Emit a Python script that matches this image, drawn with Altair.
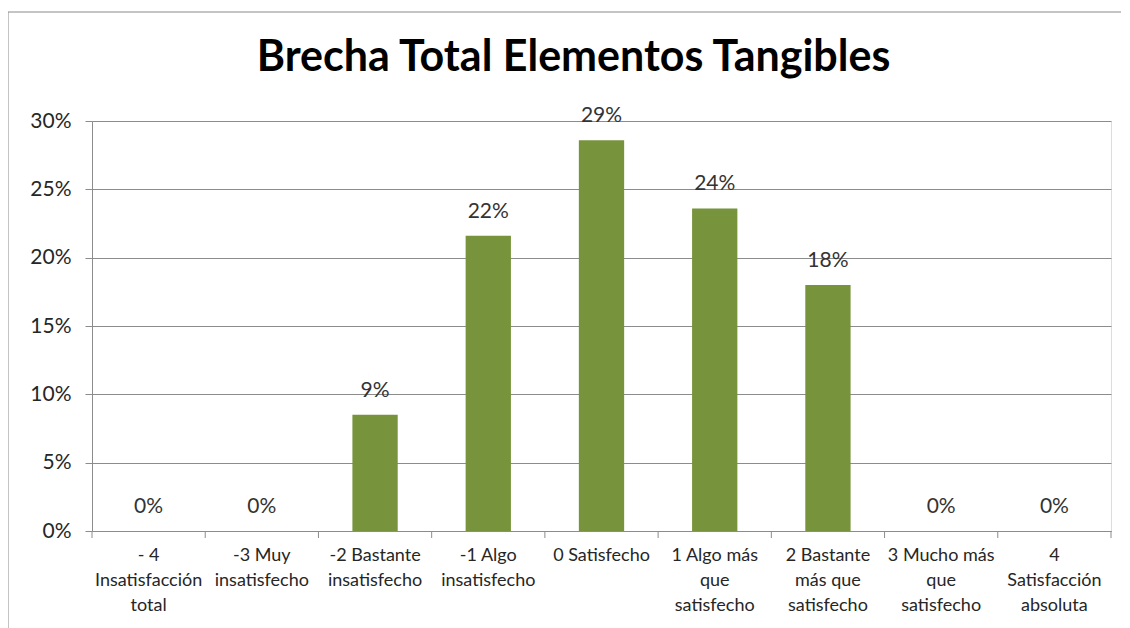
import altair as alt
import pandas as pd

categories = [
    "- 4\nInsatisfacción\ntotal",
    "-3 Muy\ninsatisfecho",
    "-2 Bastante\ninsatisfecho",
    "-1 Algo\ninsatisfecho",
    "0 Satisfecho",
    "1 Algo más\nque\nsatisfecho",
    "2 Bastante\nmás que\nsatisfecho",
    "3 Mucho más\nque\nsatisfecho",
    "4\nSatisfacción\nabsoluta",
]
values = [0.0, 0.0, 0.085, 0.216, 0.286, 0.236, 0.180, 0.0, 0.0]
y_ticks = [0, 0.05, 0.10, 0.15, 0.20, 0.25, 0.30]

df = pd.DataFrame({"cat": categories, "val": values})
df_last = df.tail(1)
frame_df = pd.DataFrame({"k": [0]})

GRID = "#8c8c8c"
TXT = "#262626"
FONT = "Lato"
BAR = "#77933C"

xscale = alt.Scale(paddingInner=0, paddingOuter=0)
xenc = alt.X(
    "cat:N",
    sort=categories,
    scale=xscale,
    title=None,
    axis=alt.Axis(
        labelAngle=0,
        labelExpr="split(datum.value, '\\n')",
        labelFont=FONT,
        labelFontSize=18,
        labelColor=TXT,
        labelLineHeight=25,
        labelBaseline="top",
        labelPadding=15,
        labelLimit=200,
        ticks=False,
        domainColor=GRID,
        grid=False,
    ),
)
yenc = alt.Y(
    "val:Q",
    scale=alt.Scale(domain=[0, 0.3], nice=False),
    title=None,
    axis=alt.Axis(
        values=y_ticks,
        format=".0%",
        labelFont=FONT,
        labelFontSize=21,
        labelColor=TXT,
        labelPadding=14,
        tickSize=7,
        tickColor=GRID,
        domainColor=GRID,
        gridColor=GRID,
    ),
)

bars = alt.Chart(df).mark_bar(color=BAR, width=alt.RelativeBandSize(0.4)).encode(
    x=xenc, y=yenc
)

labels = alt.Chart(df).mark_text(
    font=FONT, fontSize=21, color="#333333", baseline="alphabetic", dy=-18
).encode(
    x=alt.X("cat:N", sort=categories, scale=xscale),
    y=alt.Y("val:Q"),
    text=alt.Text("val:Q", format=".0%"),
)

ticks = alt.Chart(df).mark_rule(color=GRID).encode(
    x=alt.X("cat:N", sort=categories, scale=xscale, bandPosition=0),
    y=alt.value(410),
    y2=alt.value(417),
)
end_tick = alt.Chart(df_last).mark_rule(color=GRID).encode(
    x=alt.X("cat:N", sort=categories, scale=xscale, bandPosition=1),
    y=alt.value(410),
    y2=alt.value(417),
)

frame = alt.Chart(frame_df).mark_rect(
    fill="transparent", stroke="#8a8a8a", strokeWidth=1
).encode(
    x=alt.value(-84), x2=alt.value(1037), y=alt.value(-109), y2=alt.value(540)
)

chart = alt.layer(frame, bars, labels, ticks, end_tick).properties(
    width=1019,
    height=410,
    autosize=alt.AutoSizeParams(type="none"),
    padding={"left": 84, "top": 113, "right": 10, "bottom": 100},
    title=alt.TitleParams(
        "Brecha Total Elementos Tangibles",
        font=FONT,
        fontSize=43,
        fontWeight="bold",
        color="#000000",
        anchor="middle",
        frame="group",
        baseline="alphabetic",
        offset=0,
        dy=102,
        dx=-28,
    ),
).configure_view(stroke=None).configure(background="white")

chart.save("out.html", embed_options={"renderer": "svg", "actions": False})
